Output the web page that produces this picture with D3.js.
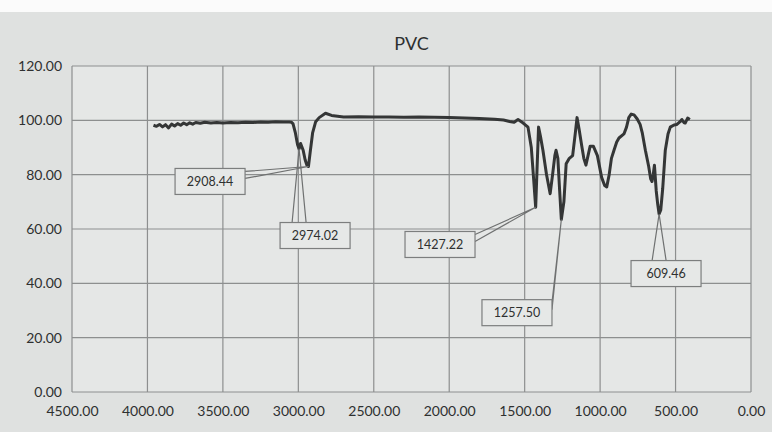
<!DOCTYPE html>
<html>
<head>
<meta charset="utf-8">
<script src="https://cdn.jsdelivr.net/npm/d3@7"></script>
<style>
  body { margin: 0; background: #ffffff; }
  text { font-family: Lato, "Open Sans", sans-serif; fill: #2e3030; }
  .tick_label { font-size: 14px; }
  .title { font-size: 18px; }
  .callout text { font-size: 12.5px; }
</style>
</head>
<body>
<svg id="chart"></svg>
<script>
var
    width = 772,
    height = 432,
    title = 'PVC';

// spectrum, wavenumber (cm-1) vs transmittance (%)
var wavenumber = [3960, 3940, 3920, 3900, 3880, 3860, 3840, 3820, 3800, 3780, 3760, 3740, 3720, 3700, 3680,
    3650, 3620, 3580, 3540, 3500, 3450, 3400, 3350, 3300, 3250, 3200, 3150, 3100, 3060, 3045, 3035,
    3020, 3005, 2995, 2985, 2968, 2955, 2943, 2933, 2922, 2905, 2885, 2862, 2820, 2780, 2700, 2600,
    2500, 2400, 2300, 2200, 2100, 2000, 1900, 1800, 1700, 1640, 1600, 1570, 1544, 1510, 1478, 1456,
    1440, 1427, 1418, 1408, 1395, 1379, 1355, 1331, 1315, 1300, 1292, 1280, 1268, 1257, 1240, 1225,
    1204, 1182, 1165, 1153, 1140, 1123, 1108, 1094, 1080, 1066, 1045, 1018, 990, 970, 956, 940,
    925, 908, 890, 875, 842, 825, 810, 794, 775, 754, 735, 721, 700, 678, 665, 656, 648, 640, 628,
    618, 609, 598, 585, 568, 550, 535, 510, 491, 470, 458, 445, 436, 420, 405];

var transmittance = [98.2, 97.8, 98.5, 97.6, 98.4, 97.2, 98.6, 97.9, 98.8, 98.2, 99.0, 98.4, 99.1, 98.6, 99.2,
    98.9, 99.3, 99.0, 99.2, 99.0, 99.2, 99.1, 99.3, 99.2, 99.4, 99.3, 99.5, 99.4, 99.4, 99.3, 98.7,
    95.5, 91.0, 89.5, 91.5, 89.0, 85.5, 83.5, 83.0, 88.0, 95.5, 99.5, 101.0, 102.6, 101.8, 101.2, 101.3,
    101.2, 101.2, 101.1, 101.2, 101.1, 101.0, 100.9, 100.7, 100.4, 100.1, 99.6, 99.3, 100.3, 99.0, 97.5, 90.0,
    78.0, 68.0, 82.0, 97.5, 94.0, 89.0, 80.0, 73.0, 80.0, 87.0, 89.0, 86.0, 74.0, 63.5, 70.0, 84.0,
    86.0, 87.0, 95.0, 101.0, 97.0, 91.0, 86.0, 83.5, 87.0, 90.5, 90.5, 87.0, 79.0, 76.0, 75.5, 80.0,
    86.0, 89.0, 92.0, 93.5, 95.0, 97.5, 101.0, 102.3, 102.0, 100.5, 98.5, 95.5, 89.0, 83.0, 78.5, 77.5, 80.0, 83.5, 74.0,
    69.0, 65.5, 67.0, 75.0, 89.0, 95.0, 97.5, 98.3, 98.5, 99.5, 100.3, 99.2, 99.0, 100.8, 100.3];

// tick labels
var x_ticks = [4500, 4000, 3500, 3000, 2500, 2000, 1500, 1000, 500, 0],
    y_ticks = [0, 20, 40, 60, 80, 100, 120];

// peak callouts: where the leader points, and where the label box sits (in data units)
var peak_wn    = [2933, 2995, 1427, 1257, 609],
    peak_t     = [83.0, 89.5, 68.0, 63.5, 65.5],
    peak_label = ['2908.44', '2974.02', '1427.22', '1257.50', '609.46'],
    label_wn   = [3585, 2889, 2061, 1551, 563],
    label_t    = [77.5, 57.6, 54.3, 29.2, 43.6];

var margin = {top: 66, right: 21, bottom: 40, left: 72};

var x = d3.scaleLinear().domain([4500, 0]).range([margin.left, width - margin.right]),
    y = d3.scaleLinear().domain([0, 120]).range([height - margin.bottom, margin.top]);

var svg = d3.select("#chart")
    .attr("width", width)
    .attr("height", height);

// paper background
svg.append("rect")
    .attr("width", width).attr("height", height)
    .attr("fill", "#dfe1e0");
svg.append("rect")
    .attr("width", width).attr("height", 12)
    .attr("fill", "#fbfbfb");
svg.append("rect")
    .attr("x", x(4500)).attr("y", y(120))
    .attr("width", x(0) - x(4500)).attr("height", y(0) - y(120))
    .attr("fill", "#e5e7e6");

//title
svg.append("text")
    .attr("class", "title")
    .attr("x", (x(4500) + x(0)) / 2)
    .attr("y", 50)
    .attr("text-anchor", "middle")
    .text(title);

// grid
var gridColor = "#8d8f8f";
svg.selectAll(".hgrid")
    .data(y_ticks)
  .enter().append("line")
    .attr("class", "hgrid")
    .attr("x1", x(4500)).attr("x2", x(0))
    .attr("y1", function(d) { return y(d); })
    .attr("y2", function(d) { return y(d); })
    .attr("stroke", gridColor)
    .attr("stroke-width", 1.2);

svg.selectAll(".vgrid")
    .data(x_ticks)
  .enter().append("line")
    .attr("class", "vgrid")
    .attr("y1", y(0)).attr("y2", y(120))
    .attr("x1", function(d) { return x(d); })
    .attr("x2", function(d) { return x(d); })
    .attr("stroke", gridColor)
    .attr("stroke-width", 1.2);

// axes labels
var yAxis = d3.axisLeft(y).tickValues(y_ticks).tickFormat(d3.format(".2f")).tickSize(0).tickPadding(10);
var gy = svg.append("g")
    .attr("transform", "translate(" + x(4500) + ",0)")
    .call(yAxis);

var xAxis = d3.axisBottom(x).tickValues(x_ticks).tickFormat(d3.format(".2f")).tickSize(0).tickPadding(14);
var gx = svg.append("g")
    .attr("transform", "translate(0," + y(0) + ")")
    .call(xAxis);

[gx, gy].forEach(function(g) {
    g.select(".domain").remove();
    g.selectAll("text")
        .attr("class", "tick_label")
        .attr("font-family", null)
        .attr("font-size", null)
        .attr("fill", null);
});

// spectrum
var points = wavenumber.map(function(w, i) { return [w, transmittance[i]]; });

svg.append("path")
    .datum(points)
    .attr("fill", "none")
    .attr("stroke", "#343636")
    .attr("stroke-width", 3)
    .attr("stroke-linejoin", "round")
    .attr("d", d3.line()
        .x(function(d) { return x(d[0]); })
        .y(function(d) { return y(d[1]); }));

// callouts
var boxW = 70, boxH = 26;
var callouts = svg.selectAll(".callout")
    .data(peak_label)
  .enter().append("g")
    .attr("class", "callout");

callouts.append("path")
    .attr("fill", "none")
    .attr("stroke", "#6f7171")
    .attr("stroke-width", 1.2)
    .attr("d", function(d, i) {
        var px = x(peak_wn[i]), py = y(peak_t[i]),
            cx = x(label_wn[i]), cy = y(label_t[i]),
            l = cx - boxW / 2, r = cx + boxW / 2, t = cy - boxH / 2;
        var a, b;
        if (px > l && px < r) {
            var bx = Math.max(l + 8, Math.min(r - 8, px));
            a = [bx - 7, t]; b = [bx + 7, t];
        } else {
            var sx = px > cx ? r : l;
            a = [sx, t + 3]; b = [sx, t + 10];
        }
        return "M" + a[0] + "," + a[1] + "L" + px + "," + py + "L" + b[0] + "," + b[1];
    });

callouts.append("rect")
    .attr("x", function(d, i) { return x(label_wn[i]) - boxW / 2; })
    .attr("y", function(d, i) { return y(label_t[i]) - boxH / 2; })
    .attr("width", boxW)
    .attr("height", boxH)
    .attr("fill", "#e6e8e7")
    .attr("stroke", "#7c7e7e")
    .attr("stroke-width", 1.2);

callouts.append("text")
    .attr("x", function(d, i) { return x(label_wn[i]); })
    .attr("y", function(d, i) { return y(label_t[i]); })
    .attr("dy", ".35em")
    .attr("text-anchor", "middle")
    .text(function(d) { return d; });
</script>
</body>
</html>
